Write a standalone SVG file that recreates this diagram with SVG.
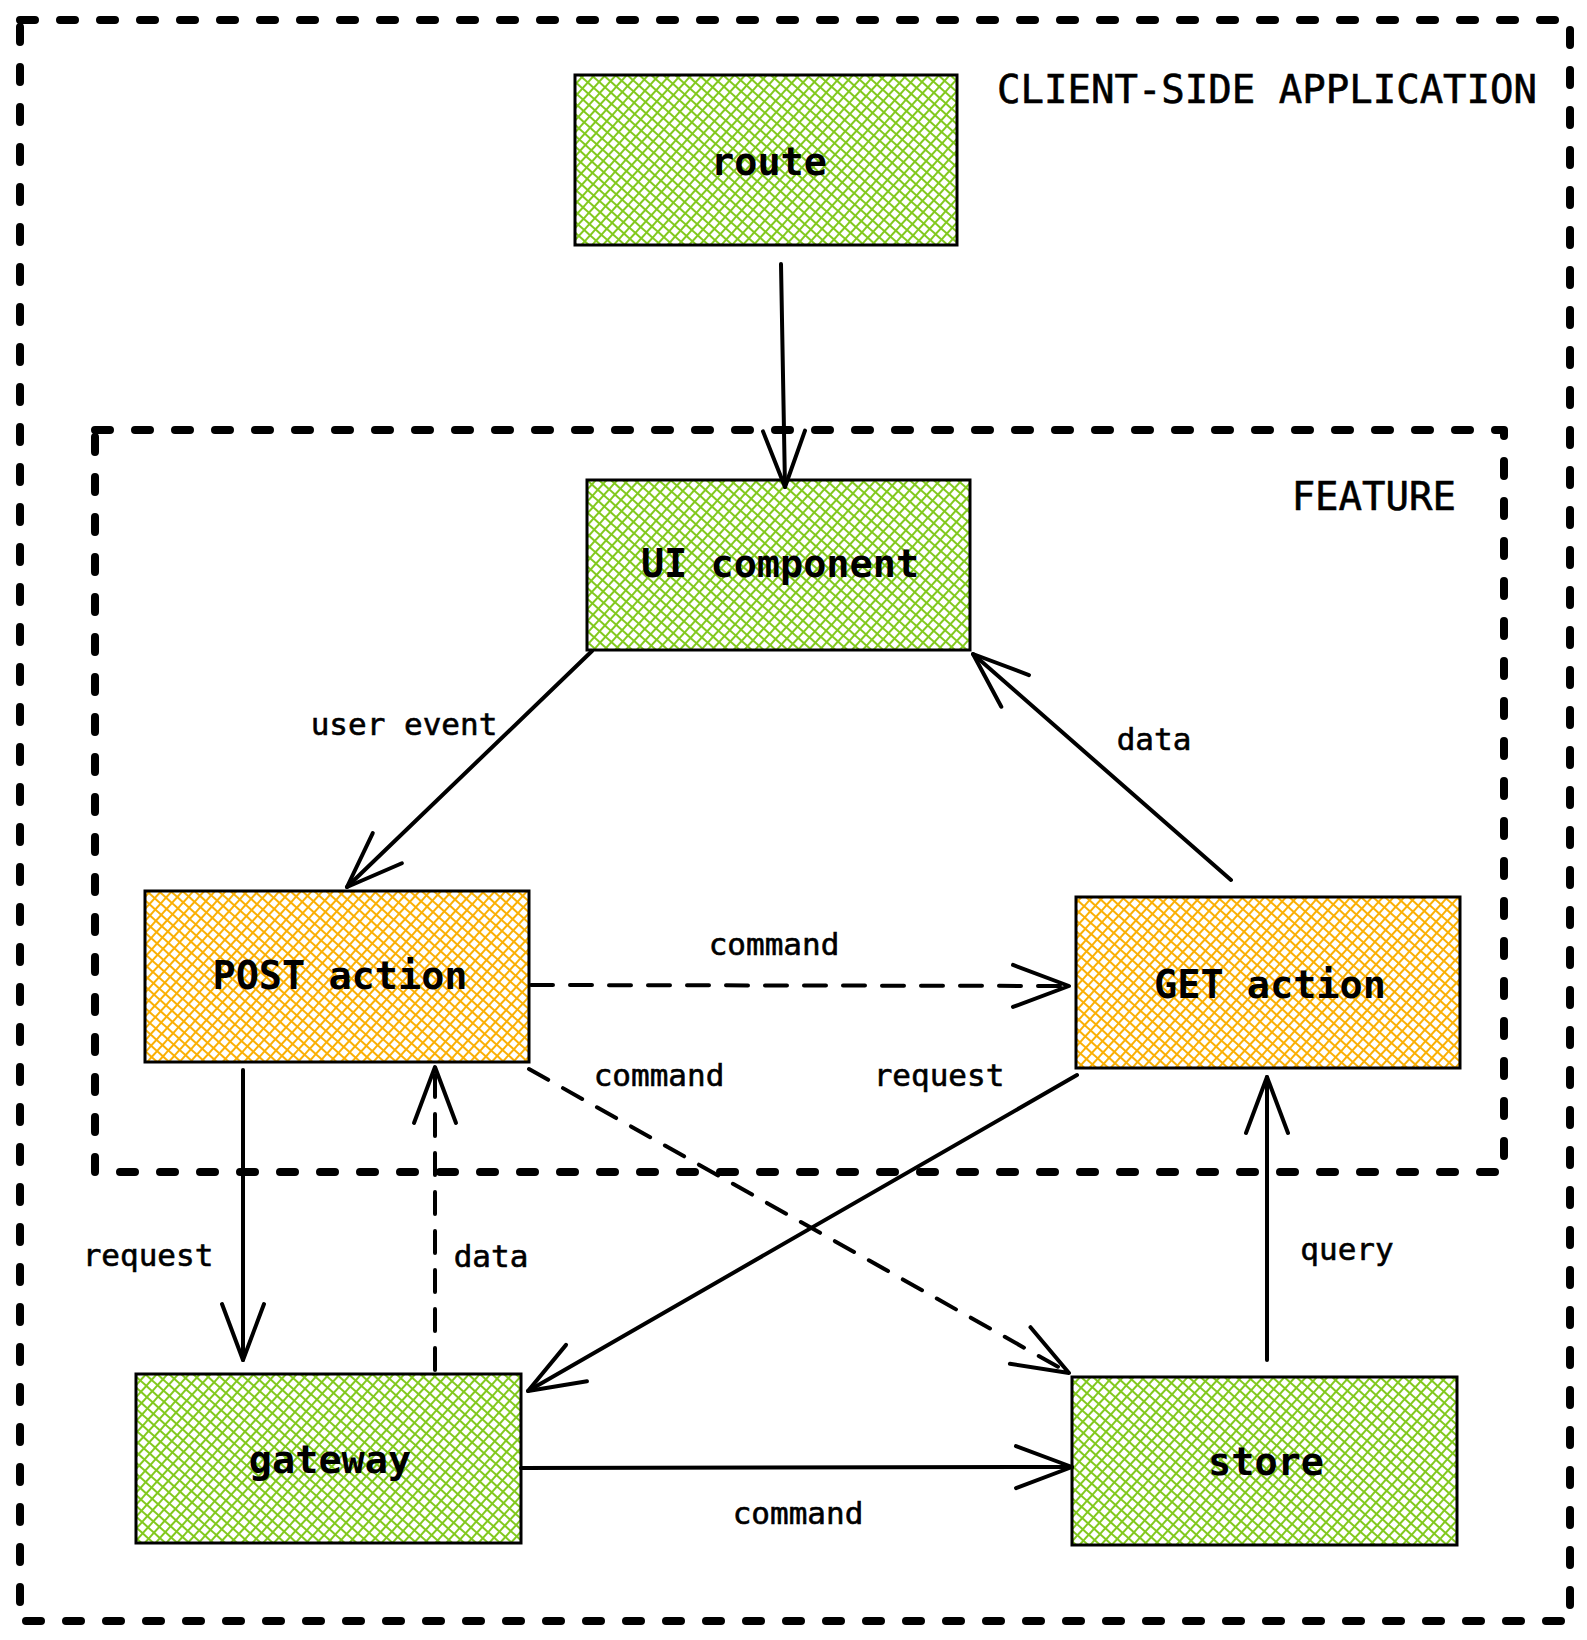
<svg xmlns="http://www.w3.org/2000/svg" width="1587" height="1640" viewBox="0 0 1587 1640">
  <defs>
    <!-- cross-hatch fills for the boxes -->
    <pattern id="hatch-green" width="8" height="8" patternUnits="userSpaceOnUse" patternTransform="rotate(42)">
      <path d="M0 4 H8 M4 0 V8" stroke="#82c91e" stroke-width="2" fill="none"/>
    </pattern>
    <pattern id="hatch-orange" width="8" height="8" patternUnits="userSpaceOnUse" patternTransform="rotate(42)">
      <path d="M0 4 H8 M4 0 V8" stroke="#fab005" stroke-width="2" fill="none"/>
    </pattern>
    <!-- open chevron arrowhead -->
    <marker id="arrow" markerUnits="userSpaceOnUse" markerWidth="70" markerHeight="60" viewBox="-60 -30 70 60" refX="0" refY="0" orient="auto">
      <path d="M-56 -21 L0 0 L-56 21" fill="none" stroke="#000" stroke-width="4" stroke-linecap="round" stroke-linejoin="round"/>
    </marker>
  </defs>
  <style>
    .frame { fill: none; stroke: #000; stroke-width: 8; stroke-dasharray: 15 25; stroke-linecap: round; stroke-linejoin: round; }
    .box { stroke: #000; stroke-width: 3; }
    .green { fill: url(#hatch-green); }
    .orange { fill: url(#hatch-orange); }
    .node-label { font-family: "DejaVu Sans Mono", "Liberation Mono", monospace; font-size: 38.5px; font-weight: bold; fill: #000; text-anchor: middle; }
    .title { font-family: "DejaVu Sans Mono", "Liberation Mono", monospace; font-size: 39px; fill: #000; stroke: #000; stroke-width: 0.6; }
    .edge-label { font-family: "DejaVu Sans Mono", "Liberation Mono", monospace; font-size: 31px; fill: #000; stroke: #000; stroke-width: 0.6; text-anchor: middle; }
    .edge { fill: none; stroke: #000; stroke-width: 4; stroke-linecap: round; marker-end: url(#arrow); }
    .dashed { stroke-dasharray: 22 17; }
  </style>

  <rect width="1587" height="1640" fill="#fff"/>

  <!-- boundaries -->
  <g id="client-side-application">
    <rect class="frame" x="20" y="20" width="1550" height="1601"/>
    <text class="title" x="997" y="103">CLIENT-SIDE APPLICATION</text>
  </g>
  <g id="feature">
    <rect class="frame" x="95" y="430" width="1409" height="742"/>
    <text class="title" x="1456" y="510" text-anchor="end">FEATURE</text>
  </g>

  <!-- nodes -->
  <g id="route">
    <rect class="box green" x="575" y="75" width="382" height="170"/>
    <text class="node-label" x="769" y="175">route</text>
  </g>
  <g id="ui-component">
    <rect class="box green" x="587" y="480" width="383" height="170"/>
    <text class="node-label" x="780" y="577">UI component</text>
  </g>
  <g id="post-action">
    <rect class="box orange" x="145" y="891" width="384" height="171"/>
    <text class="node-label" x="340" y="989">POST action</text>
  </g>
  <g id="get-action">
    <rect class="box orange" x="1076" y="897" width="384" height="171"/>
    <text class="node-label" x="1270" y="998">GET action</text>
  </g>
  <g id="gateway">
    <rect class="box green" x="136" y="1374" width="385" height="169"/>
    <text class="node-label" x="330" y="1473">gateway</text>
  </g>
  <g id="store">
    <rect class="box green" x="1072" y="1377" width="385" height="168"/>
    <text class="node-label" x="1266" y="1475">store</text>
  </g>

  <!-- connectors -->
  <g id="connectors">
    <path class="edge" d="M781 264 L785 487"/>
    <path class="edge" d="M592 651 L347 887"/>
    <path class="edge" d="M1231 880 L973 654"/>
    <path class="edge dashed" d="M531 985 L1069 986"/>
    <path class="edge dashed" d="M529 1069 L1069 1373"/>
    <path class="edge" d="M1077 1075 L528 1391"/>
    <path class="edge" d="M243 1070 L243 1360"/>
    <path class="edge dashed" d="M435 1370 L435 1067"/>
    <path class="edge" d="M1267 1360 L1267 1077"/>
    <path class="edge" d="M521 1468 L1072 1467"/>
  </g>

  <!-- connector labels -->
  <g id="connector-labels">
    <text class="edge-label" x="404" y="735">user event</text>
    <text class="edge-label" x="1154" y="750">data</text>
    <text class="edge-label" x="774" y="955">command</text>
    <text class="edge-label" x="659" y="1086">command</text>
    <text class="edge-label" x="939" y="1086">request</text>
    <text class="edge-label" x="148" y="1266">request</text>
    <text class="edge-label" x="491" y="1267">data</text>
    <text class="edge-label" x="1347" y="1260">query</text>
    <text class="edge-label" x="798" y="1524">command</text>
  </g>
</svg>
